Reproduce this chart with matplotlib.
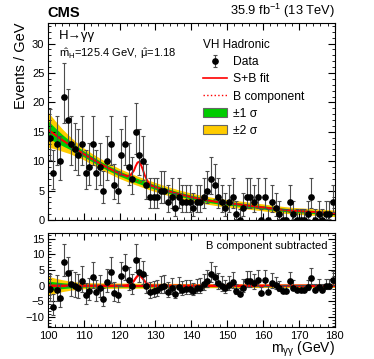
import numpy as np
import matplotlib
matplotlib.use("Agg")
import matplotlib.pyplot as plt
from matplotlib.patches import Patch
from matplotlib.lines import Line2D
from matplotlib.ticker import MultipleLocator

plt.rcParams["font.family"] = ["Liberation Sans", "DejaVu Sans"]
plt.rcParams["mathtext.fontset"] = "custom"
plt.rcParams["mathtext.rm"] = "Liberation Sans"
plt.rcParams["mathtext.it"] = "Liberation Sans"

# binned data, 1 GeV bins from 100 to 180
bin_centers = np.arange(100.5, 180.0, 1.0)
counts = [14, 8, 13, 10, 21, 17, 13, 12, 11, 13,
          8, 9, 13, 8, 9, 5, 10, 13, 6, 5,
          11, 13, 9, 7, 15, 11, 10, 6, 4, 4,
          4, 5, 5, 3, 4, 2, 4, 3, 3, 3,
          2, 3, 3, 4, 5, 7, 6, 4, 3, 2,
          3, 4, 1, 0, 2, 4, 4, 3, 4, 0,
          4, 0, 3, 2, 1, 0, 0, 3, 1, 0,
          0, 0, 1, 4, 0, 1, 0, 1, 1, 3]
# data minus B component (lower panel)
residuals = [-1.2, -6.7, -1.3, -3.8, 7.6, 4.0, 0.4, -0.2, -0.8, 1.6,
             -3.1, -1.7, 2.7, -2.0, -0.6, -4.3, 1.1, 4.4, -2.4, -3.1,
             3.2, 5.5, 1.7, 0.0, 8.2, 4.4, 3.7, -0.1, -1.9, -1.7,
             -1.5, -0.3, -0.1, -1.9, -0.8, -2.6, -0.4, -1.3, -1.1, -1.0,
             -1.8, -0.7, -0.6, 0.5, 1.6, 3.7, 2.8, 0.9, 0.0, -0.9,
             0.2, 1.2, -1.7, -2.6, -0.6, 1.5, 1.6, 0.7, 1.7, -2.2,
             1.9, -2.0, 1.0, 0.1, -0.8, -1.8, -1.7, 1.4, -0.6, -1.5,
             -1.5, -1.5, -0.4, 2.6, -1.4, -0.3, -1.3, -0.2, -0.2, 1.8]

# fit curves
fit_x = [100, 102, 104, 106, 108, 110, 112, 114, 116, 118, 120,
         121, 122, 123, 124, 124.5, 125, 125.4, 126, 126.5, 127, 128, 129, 130,
         132, 134, 136, 138, 140, 142, 144, 146, 148, 150, 152, 154, 156, 158,
         160, 162, 164, 166, 168, 170, 172, 174, 176, 178, 180]
bkg_fit = [15.4, 14.5, 13.6, 12.8, 12.0, 11.25, 10.5, 9.8, 9.1, 8.5, 7.9,
           7.65, 7.4, 7.15, 6.9, 6.79, 6.68, 6.59, 6.45, 6.34, 6.23, 6.0, 5.8, 5.6,
           5.2, 4.85, 4.5, 4.2, 3.9, 3.65, 3.4, 3.2, 3.0, 2.87, 2.75, 2.6, 2.45, 2.3,
           2.15, 2.0, 1.85, 1.72, 1.6, 1.52, 1.45, 1.38, 1.3, 1.22, 1.15]
sig_fit = [0, 0, 0, 0, 0, 0, 0, 0, 0, 0, 0,
           0.02, 0.1, 0.45, 1.5, 2.4, 3.1, 3.3, 2.9, 2.2, 1.4, 0.35, 0.05, 0,
           0, 0, 0, 0, 0, 0, 0, 0, 0, 0, 0, 0, 0, 0,
           0, 0, 0, 0, 0, 0, 0, 0, 0, 0, 0]
sigma1 = [1.5, 1.2, 0.95, 0.75, 0.6, 0.5, 0.47, 0.45, 0.44, 0.43, 0.42,
          0.41, 0.41, 0.41, 0.4, 0.4, 0.4, 0.4, 0.4, 0.4, 0.4, 0.39, 0.39, 0.39,
          0.38, 0.37, 0.36, 0.35, 0.34, 0.33, 0.33, 0.32, 0.32, 0.31, 0.31, 0.3, 0.3, 0.3,
          0.29, 0.29, 0.29, 0.28, 0.28, 0.28, 0.28, 0.27, 0.27, 0.27, 0.27]
sigma2 = [3.0, 2.4, 1.9, 1.5, 1.2, 1.0, 0.94, 0.9, 0.88, 0.86, 0.84,
          0.83, 0.83, 0.82, 0.81, 0.81, 0.8, 0.8, 0.8, 0.8, 0.8, 0.79, 0.79, 0.78,
          0.76, 0.74, 0.72, 0.7, 0.68, 0.67, 0.66, 0.65, 0.64, 0.63, 0.62, 0.61, 0.6, 0.6,
          0.59, 0.58, 0.58, 0.57, 0.57, 0.56, 0.56, 0.55, 0.55, 0.55, 0.55]

GREEN = "#00cc00"
YELLOW = "#ffcc00"

counts = np.array(counts, dtype=float)
residuals = np.array(residuals)
fx = np.array(fit_x)
bkg = np.array(bkg_fit)
sb = bkg + np.array(sig_fit)
s1 = np.array(sigma1)
s2 = np.array(sigma2)

# approximate Poisson intervals
err_up = np.sqrt(counts + 0.75) + 1.0
err_lo = np.where(counts > 0, np.sqrt(np.clip(counts - 0.25, 0, None)), 0.0)

eb_style = dict(fmt="o", color="black", ms=3.8, ecolor="0.3", elinewidth=0.8,
                capsize=1.2, capthick=0.8)


def style_axis(ax):
    ax.tick_params(direction="in", which="both", top=True, right=True,
                   labelsize=8, pad=2.5)
    ax.tick_params(which="major", length=5)
    ax.tick_params(which="minor", length=2.5)
    ax.xaxis.set_major_locator(MultipleLocator(10))
    ax.xaxis.set_minor_locator(MultipleLocator(2))
    ax.yaxis.set_major_locator(MultipleLocator(5))
    ax.yaxis.set_minor_locator(MultipleLocator(1))
    for sp in ax.spines.values():
        sp.set_linewidth(0.8)


fig = plt.figure(figsize=(3.74, 3.59), dpi=100)
ax1 = fig.add_axes([0.128, 0.387, 0.767, 0.549])
ax2 = fig.add_axes([0.128, 0.089, 0.767, 0.262])

# top panel
ax1.fill_between(fx, bkg - s2, bkg + s2, color=YELLOW, lw=0)
ax1.fill_between(fx, bkg - s1, bkg + s1, color=GREEN, lw=0)
ax1.plot(fx, bkg, color="red", ls=":", lw=1.0)
ax1.plot(fx, sb, color="red", lw=1.4)
data_h = ax1.errorbar(bin_centers, counts, yerr=[err_lo, err_up], **eb_style)
ax1.set_xlim(100, 180)
ax1.set_ylim(0, 33.5)
style_axis(ax1)
ax1.tick_params(labelbottom=False)
ax1.set_ylabel("Events / GeV", loc="top", fontsize=10.5, labelpad=3)

ax1.text(0.04, 0.965, "H\u2192\u03b3\u03b3", transform=ax1.transAxes, fontsize=9.5,
         va="top", ha="left")
ax1.text(0.04, 0.885, r"$\hat{\mathrm{m}}_{\mathrm{H}}$=125.4 GeV, $\hat{\mu}$=1.18",
         transform=ax1.transAxes, fontsize=8, va="top", ha="left")

handles = [
    data_h,
    Line2D([], [], color="red", lw=1.2),
    Line2D([], [], color="red", lw=1.0, ls=":"),
    Patch(facecolor=GREEN, edgecolor="0.4", lw=0.8),
    Patch(facecolor=YELLOW, edgecolor="0.4", lw=0.8),
]
labels = ["Data", "S+B fit", "B component", "\u00b11 \u03c3", "\u00b12 \u03c3"]
leg = ax1.legend(handles, labels, title="VH Hadronic", loc="upper left",
                 bbox_to_anchor=(0.51, 0.96), frameon=False, fontsize=8.7,
                 title_fontsize=8.5, alignment="left", handlelength=2.0,
                 handletextpad=0.5, labelspacing=0.42, borderpad=0.2)

fig.text(0.128, 0.945, "CMS", fontsize=10.5, fontweight="bold", ha="left", va="bottom")
fig.text(0.895, 0.945, r"35.9 fb$^{-1}$ (13 TeV)", fontsize=9.3, ha="right", va="bottom")

# bottom panel
ax2.fill_between(fx, -s2, s2, color=YELLOW, lw=0)
ax2.fill_between(fx, -s1, s1, color=GREEN, lw=0)
ax2.plot(fx, np.zeros_like(fx, dtype=float), color="red", lw=1.6)
ax2.plot(fx, np.array(sig_fit), color="red", lw=1.6)
ax2.errorbar(bin_centers, residuals, yerr=[err_lo, err_up], **eb_style)
ax2.set_xlim(100, 180)
ax2.set_ylim(-13.2, 16.8)
style_axis(ax2)
ax2.text(0.975, 0.92, "B component subtracted", transform=ax2.transAxes,
         fontsize=8, ha="right", va="top")
fig.text(0.895, 0.017, r"m$_{\gamma\gamma}$ (GeV)", fontsize=10, ha="right",
         va="baseline")

fig.savefig("out.png", dpi=100)
